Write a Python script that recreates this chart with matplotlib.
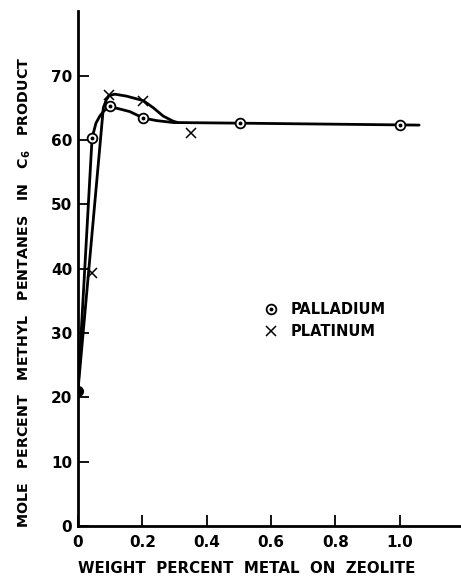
import numpy as np
import matplotlib
matplotlib.use("Agg")
import matplotlib.pyplot as plt
from matplotlib.lines import Line2D

pd_x = [0.0, 0.044, 0.099, 0.203, 0.503, 1.0]
pd_y = [21.0, 60.3, 65.2, 63.4, 62.6, 62.3]
pt_x = [0.044, 0.097, 0.203, 0.35]
pt_y = [39.4, 67.0, 66.1, 61.1]

# hand-drawn smooth curves
pd_curve_x = [0.0, 0.044, 0.056, 0.068, 0.079, 0.09, 0.099, 0.122, 0.161, 0.203, 0.244, 0.296, 0.503, 1.06]
pd_curve_y = [21.0, 60.3, 62.6, 63.7, 64.4, 64.9, 65.1, 64.9, 64.4, 63.4, 63.0, 62.7, 62.6, 62.3]
pt_curve_x = [0.0, 0.079, 0.088, 0.097, 0.115, 0.151, 0.203, 0.234, 0.265, 0.296, 0.31]
pt_curve_y = [21.0, 65.0, 66.2, 66.9, 67.1, 66.8, 66.1, 65.0, 63.7, 62.9, 62.7]

x_ticks = [0, 0.2, 0.4, 0.6, 0.8, 1.0]
x_ticklabels = ["0", "0.2", "0.4", "0.6", "0.8", "1.0"]
y_ticks = [0, 10, 20, 30, 40, 50, 60, 70]

fig = plt.figure(figsize=(4.61, 5.86), dpi=100)
ax = fig.add_axes([0.169, 0.102, 0.831, 0.879])
ax.set_xlim(0, 1.19)
ax.set_ylim(0, 80)

lw = 2.0
ax.plot(pd_curve_x, pd_curve_y, color="black", lw=lw, solid_capstyle="round", zorder=2)
ax.plot(pt_curve_x, pt_curve_y, color="black", lw=lw, solid_capstyle="round", zorder=2)

# palladium: circle with a centre dot; first point is solid
ax.plot(pd_x[1:], pd_y[1:], ls="none", marker="o", ms=7, mfc="white", mec="black", mew=1.3, zorder=3)
ax.plot(pd_x[1:], pd_y[1:], ls="none", marker="o", ms=1.8, color="black", zorder=4)
ax.plot(pd_x[:1], pd_y[:1], ls="none", marker="o", ms=7, color="black", zorder=4)
# platinum: crosses
ax.plot(pt_x, pt_y, ls="none", marker="x", ms=6.5, mew=1.1, color="black", zorder=3)

for s in ["top", "right"]:
    ax.spines[s].set_visible(False)
for s in ["left", "bottom"]:
    ax.spines[s].set_linewidth(2.0)

tick_font = dict(fontsize=11, fontweight="bold", family="DejaVu Sans")
ax.set_xticks(x_ticks)
ax.set_xticklabels(x_ticklabels, **tick_font)
ax.set_yticks(y_ticks)
ax.set_yticklabels([str(v) for v in y_ticks], **tick_font)
ax.tick_params(axis="both", direction="in", length=8, width=1.3, colors="black")
ax.tick_params(axis="x", pad=6)
ax.tick_params(axis="y", pad=4)

ax.set_xlabel("WEIGHT  PERCENT  METAL  ON  ZEOLITE", fontsize=10.8, fontweight="bold")
ax.set_ylabel(r"MOLE   PERCENT   METHYL   PENTANES   IN   C$_\mathbf{6}$   PRODUCT",
              fontsize=10.3, fontweight="bold")
ax.xaxis.set_label_coords(0.441, -0.067)
ax.yaxis.set_label_coords(-0.118, 0.455)

h_pd = (Line2D([], [], ls="none", marker="o", ms=7, mfc="white", mec="black", mew=1.3),
        Line2D([], [], ls="none", marker="o", ms=1.8, color="black"))
h_pt = Line2D([], [], ls="none", marker="x", ms=6.5, mew=1.1, color="black")
ax.legend([h_pd, h_pt], ["PALLADIUM", "PLATINUM"], loc="upper left",
          bbox_to_anchor=(0.452, 0.4605), frameon=False, handlelength=1.0,
          handletextpad=0.8, labelspacing=0.5,
          prop=dict(size=10.5, weight="bold"))

fig.savefig("out.png", dpi=100)
